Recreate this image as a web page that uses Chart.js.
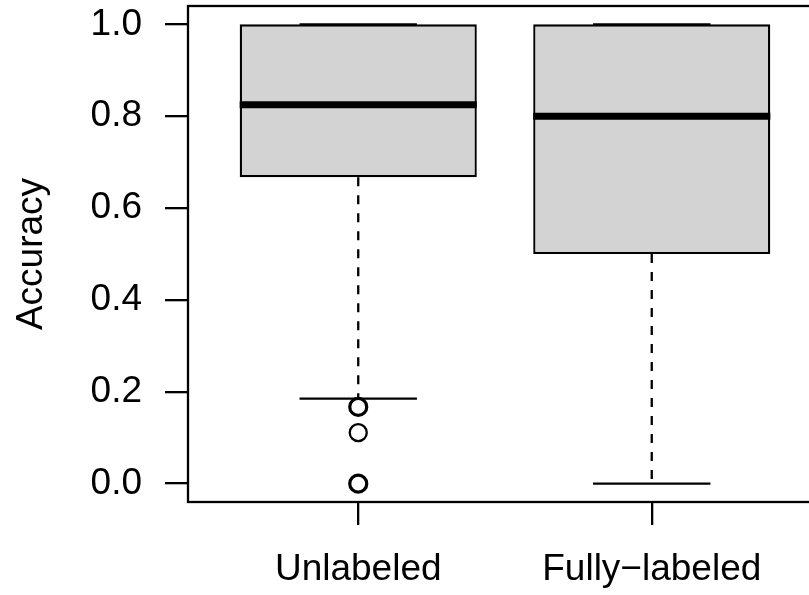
<!DOCTYPE html>
<html>
<head>
<meta charset="utf-8">
<title>Accuracy by labeling</title>
<script src="https://cdn.jsdelivr.net/npm/chart.js@4/dist/chart.umd.min.js"></script>
<style>
  html, body { margin: 0; padding: 0; background: #fff; overflow: hidden; }
  #wrap { width: 809px; height: 595px; overflow: hidden; }
  canvas { display: block; }
</style>
</head>
<body>
<div id="wrap"><canvas id="boxChart" width="840" height="595"></canvas></div>
<script>
// ── Data ────────────────────────────────────────────
const groups = ['Unlabeled', 'Fully\u2212labeled'];
const groupPos = [1, 2];
const q1 = [0.667, 0.5];
const medians = [0.825, 0.8];
const q3 = [1.0, 1.0];
const whiskerLow = [0.185, 0.0];
const whiskerHigh = [1.0, 1.0];

// outliers: group position, value, how many points sit on it
const outlierGroup = [1, 1, 1];
const outlierValues = [0.167, 0.111, 0.0];
const outlierCounts = [2, 1, 3];

const yTicks = [0, 0.2, 0.4, 0.6, 0.8, 1.0];

// ── Styling ─────────────────────────────────────────
const LW = 2.3;
const FONT = { family: '"Liberation Sans", Arial, sans-serif', size: 37 };
const BOX_W = 0.8;      // box width in x units
const STAPLE_W = 0.4;   // whisker cap width in x units

// whiskers + caps behind the boxes, medians + frame on top
const boxplotPlugin = {
  id: 'boxplot',
  beforeDatasetsDraw(chart) {
    const { ctx, scales: { x, y } } = chart;
    ctx.save();
    ctx.strokeStyle = '#000';
    ctx.lineWidth = LW;
    ctx.lineCap = 'butt';
    groupPos.forEach((g, i) => {
      const cx = x.getPixelForValue(g);
      const sl = x.getPixelForValue(g - STAPLE_W / 2);
      const sr = x.getPixelForValue(g + STAPLE_W / 2);

      ctx.setLineDash([9, 9]);
      ctx.beginPath();
      ctx.moveTo(cx, y.getPixelForValue(q1[i]));
      ctx.lineTo(cx, y.getPixelForValue(whiskerLow[i]));
      ctx.moveTo(cx, y.getPixelForValue(q3[i]));
      ctx.lineTo(cx, y.getPixelForValue(whiskerHigh[i]));
      ctx.stroke();

      ctx.setLineDash([]);
      ctx.beginPath();
      [whiskerLow[i], whiskerHigh[i]].forEach(v => {
        const py = y.getPixelForValue(v);
        ctx.moveTo(sl, py);
        ctx.lineTo(sr, py);
      });
      ctx.stroke();
    });
    ctx.restore();
  },
  afterDatasetsDraw(chart) {
    const { ctx, chartArea: a, scales: { x, y } } = chart;
    ctx.save();
    ctx.strokeStyle = '#000';
    ctx.lineCap = 'butt';
    ctx.lineWidth = 7;
    groupPos.forEach((g, i) => {
      const py = y.getPixelForValue(medians[i]);
      ctx.beginPath();
      ctx.moveTo(x.getPixelForValue(g - BOX_W / 2) - LW / 2, py);
      ctx.lineTo(x.getPixelForValue(g + BOX_W / 2) + LW / 2, py);
      ctx.stroke();
    });
    ctx.lineWidth = LW;
    ctx.strokeRect(a.left, a.top, a.right - a.left, a.bottom - a.top);
    ctx.restore();
  },
};

const ctx = document.getElementById('boxChart').getContext('2d');

new Chart(ctx, {
  type: 'bar',
  data: {
    datasets: [{
      type: 'bar',
      data: groupPos.map((g, i) => ({ x: g, y: [q1[i], q3[i]] })),
      backgroundColor: '#d3d3d3',
      borderColor: '#000',
      borderWidth: LW,
      borderSkipped: false,
      barPercentage: BOX_W + LW / 293,
      categoryPercentage: 1,
    }, {
      type: 'scatter',
      data: outlierValues.map((v, i) => ({ x: outlierGroup[i], y: v })),
      pointStyle: 'circle',
      pointRadius: 8.5,
      pointBackgroundColor: 'rgba(0,0,0,0)',
      pointBorderColor: '#000',
      pointBorderWidth: outlierCounts.map(c => (c > 1 ? 3.2 : LW)),
    }],
  },
  options: {
    responsive: false,
    animation: false,
    events: [],
    layout: { autoPadding: false, padding: { left: 0, top: 6, right: 18, bottom: 0 } },
    plugins: {
      legend: { display: false },
      tooltip: { enabled: false },
    },
    scales: {
      x: {
        type: 'linear',
        offset: false,
        min: 0.42,
        max: 2.58,
        afterBuildTicks: s => { s.ticks = groupPos.map(v => ({ value: v })); },
        afterFit: s => { s.height = 93; s.paddingLeft = 0; s.paddingRight = 0; },
        border: { display: false },
        grid: {
          offset: false,
          drawOnChartArea: false,
          drawTicks: true,
          tickLength: 23,
          color: '#000',
          lineWidth: LW,
        },
        ticks: {
          color: '#000',
          font: FONT,
          padding: 23,
          maxRotation: 0,
          autoSkip: false,
          callback: (v, i) => groups[i],
        },
      },
      y: {
        min: -0.04,
        max: 1.04,
        afterBuildTicks: s => { s.ticks = yTicks.map(v => ({ value: v })); },
        afterFit: s => { s.width = 188; s.paddingTop = 0; s.paddingBottom = 0; },
        border: { display: false },
        grid: {
          drawOnChartArea: false,
          drawTicks: true,
          tickLength: 23,
          color: '#000',
          lineWidth: LW,
        },
        ticks: {
          color: '#000',
          font: FONT,
          padding: 23,
          callback: v => v.toFixed(1),
        },
        title: {
          display: true,
          text: 'Accuracy',
          color: '#000',
          font: FONT,
          padding: { top: 10, bottom: 0 },
        },
      },
    },
  },
  plugins: [boxplotPlugin],
});
</script>
</body>
</html>
